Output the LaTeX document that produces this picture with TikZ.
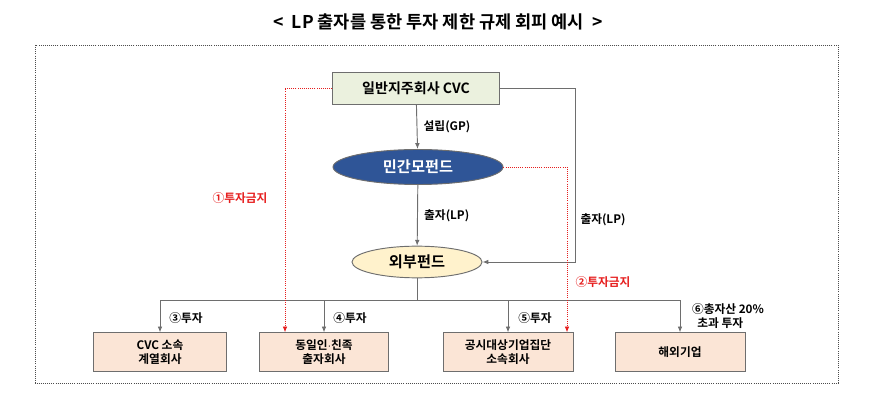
\documentclass[tikz,border=0pt]{standalone}
\usepackage{fontspec}
\setmainfont{Noto Sans CJK KR}[BoldFont={Noto Sans CJK KR Bold}]
\usetikzlibrary{arrows.meta, positioning, shapes.geometric}
\definecolor{lineg}{RGB}{110,110,110}
\definecolor{topfill}{RGB}{235,241,222}
\definecolor{fundblue}{RGB}{47,85,151}
\definecolor{extfill}{RGB}{255,242,204}
\definecolor{boxfill}{RGB}{251,229,214}
\definecolor{banred}{RGB}{230,30,30}
\tikzset{
    company/.style={
        rectangle,
        draw=lineg,
        thick,
        minimum width=4.0cm,
        minimum height=1.15cm,
        fill=boxfill,
        align=center,
        font=\fontsize{10}{12}\selectfont\bfseries
    },
    fund/.style={
        ellipse,
        draw=lineg,
        thick,
        font=\fontsize{13}{15}\selectfont\bfseries
    },
    wire/.style={
        draw=lineg,
        thick,
        -{Latex[length=5pt,width=4pt]}
    },
    banwire/.style={
        draw=banred,
        densely dotted,
        thick,
        -{Latex[length=5pt,width=4pt]}
    },
    note/.style={
        font=\fontsize{10}{12}\selectfont\bfseries,
        align=left
    }
}
\begin{document}
\begin{tikzpicture}[x=0.03cm, y=-0.03cm]
\useasboundingbox (0,0) rectangle (876,405);

% Title and frame
\node[font=\fontsize{15}{17}\selectfont\bfseries] (title) at (438,22) {<\ \ LP 출자를 통한 투자 제한 규제 회피 예시\ \ >};
\draw[densely dotted, thick, black!70] (35,45) rectangle (838,383);

% Main nodes
\node[rectangle, draw=lineg, thick, fill=topfill, minimum width=5.0cm, minimum height=0.96cm,
      font=\fontsize{12}{14}\selectfont\bfseries] (cvc) at (416,88) {일반지주회사 CVC};
\node[fund, fill=fundblue, text=white, minimum width=5.1cm, minimum height=1.05cm] (mofund) at (418,167) {민간모펀드};
\node[fund, fill=extfill, minimum width=3.9cm, minimum height=0.95cm] (extfund) at (417,262) {외부펀드};

% Target companies
\node[company] (affil) at (160,352) {CVC 소속\\계열회사};
\node[company, minimum width=3.85cm] (relat) at (324,352) {동일인$\cdot$친족\\출자회사};
\node[company, minimum width=3.9cm] (group) at (508,352) {공시대상기업집단\\소속회사};
\node[company, minimum width=3.9cm] (abroad) at (680,352) {해외기업};

% Fund chain
\draw[wire] (cvc) -- node[note, right=2pt] {설립(GP)} (mofund);
\draw[wire] (mofund) -- node[note, right=2pt] {출자(LP)} (extfund);
\coordinate (lpcorner) at (575,88);
\draw[wire] (cvc.east) -- (lpcorner) |- (extfund.east);
\node[note] (lplabel) at (603,220) {출자(LP)};

% Investment bus
\coordinate (bus) at (417,300);
\draw[thick, lineg] (extfund.south) -- (bus);
\draw[wire] (bus) -| (affil.north);
\draw[wire] (bus) -| (relat.north);
\draw[wire] (bus) -| (group.north);
\draw[wire] (bus) -| (abroad.north);
\node[note] (inv3) at (186,318) {③투자};
\node[note] (inv4) at (350,318) {④투자};
\node[note] (inv5) at (535,318) {⑤투자};
\node[note] (inv6) at (728,316) {⑥총자산 20\%\\\ \ 초과 투자};

% Prohibited paths
\draw[banwire] (cvc.west) -| ([xshift=-39*0.03cm]relat.north);
\draw[banwire] (mofund.east) -| ([xshift=59*0.03cm]group.north);
\node[note, text=banred] (ban1) at (240,198) {①투자금지};
\node[note, text=banred] (ban2) at (603,282) {②투자금지};

\end{tikzpicture}
\end{document}
